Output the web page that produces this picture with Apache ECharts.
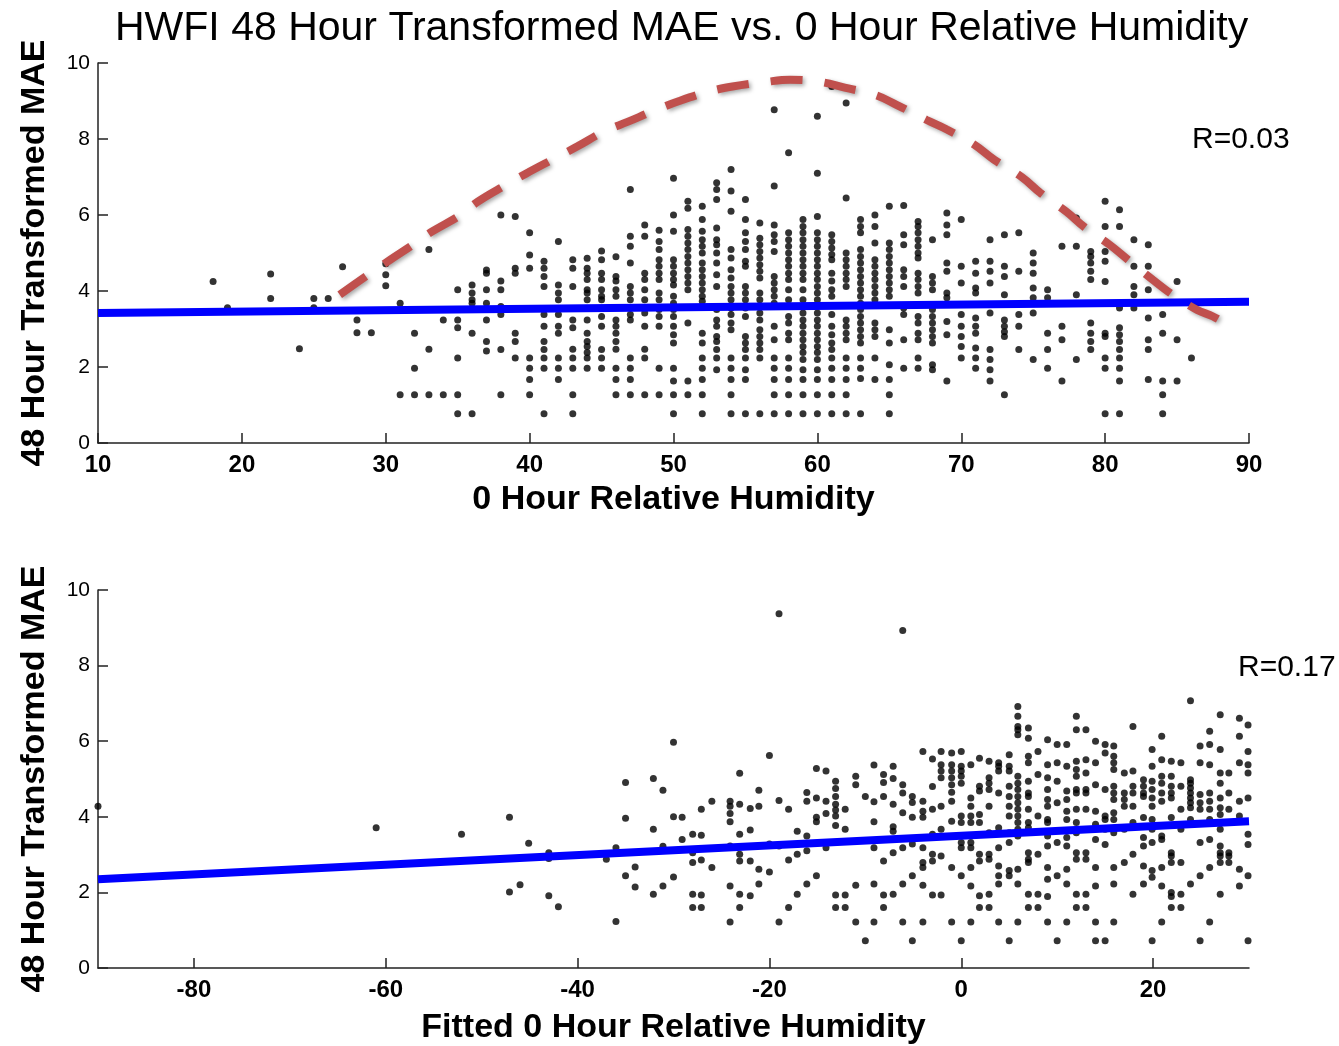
<!DOCTYPE html>
<html>
<head>
<meta charset="utf-8">
<script src="https://cdn.jsdelivr.net/npm/echarts@6/dist/echarts.min.js"></script>
<style>html,body{margin:0;padding:0;background:#fff}#c{width:1339px;height:1046px}</style>
</head>
<body>
<div id="c"></div>
<script>
// ---------- DATA ----------
const titleText = 'HWFI 48 Hour Transformed MAE vs. 0 Hour Relative Humidity';
const yName = '48 Hour Transformed MAE';
const topXName = '0 Hour Relative Humidity';
const botXName = 'Fitted 0 Hour Relative Humidity';
const topR = 'R=0.03';
const botR = 'R=0.17';
const botTicks = [-80, -60, -40, -20, 0, 20];

// Top panel: integer humidity columns and the MAE values in each column
const topX = [18,19,22,24,25,26,27,28,29,30,31,32,33,34,35,36,37,38,39,40,41,42,43,44,45,46,47,48,49,50,
  51,52,53,54,55,56,57,58,59,60,61,62,63,64,65,66,67,68,69,70,71,72,73,74,75,76,77,78,79,80,81,82,83,84,85,86];
const topY = [
  [4.25],[3.56],[4.45,3.8],[2.48],[3.8,3.56],[3.8],[4.64],[3.24,2.9],[2.9],[4.72,4.43,4.14],
  [3.68,1.27],[2.89,1.97,1.27],[5.09,2.47,1.27],[3.24,1.27],[4.03,3.24,3.03,2.24,1.27,0.77],
  [4.16,3.95,3.77,3.68,2.89,0.77],[4.55,4.47,4.03,3.68,3.24,2.67,2.42],[6.0,4.26,4.03,3.59,3.38,2.46,1.27],
  [5.96,4.6,4.47,2.89,2.67,2.24],[5.53,4.95,4.6,2.24,1.97,1.67,1.27],
  [4.78,4.6,4.38,4.12,3.38,3.07,2.67,2.46,2.24,1.97,0.77],[5.3,4.16,3.95,3.77,3.38,3.07,2.89,2.24,1.97,1.67],
  [4.82,4.6,4.12,3.24,3.03,2.47,2.24,1.97,1.27,0.77],
  [4.86,4.6,4.47,4.3,4.03,3.95,3.77,3.24,2.89,2.67,2.54,2.38,2.24,1.97],
  [5.05,4.82,4.47,4.3,4.03,3.86,3.77,3.33,3.07,2.46,2.24,1.97],
  [4.9,4.38,4.26,4.03,3.86,3.24,3.07,2.89,2.67,2.47,1.97,1.67,1.27],
  [6.67,5.44,5.18,4.74,4.12,3.95,3.77,3.55,3.38,3.24,2.24,1.97,1.67,1.27],
  [5.74,5.44,4.47,4.3,4.03,3.77,3.42,3.07,2.47,2.24,1.27],
  [5.6,5.3,5.09,4.82,4.65,4.47,4.3,3.95,3.77,3.51,3.33,3.07,1.97,1.27],
  [6.97,6.0,5.57,4.82,4.65,4.47,4.3,4.16,3.86,3.68,3.51,3.33,3.07,2.85,2.63,1.97,1.63,1.27,0.77],
  [6.36,6.18,5.62,5.44,5.26,5.09,4.91,4.74,4.56,4.38,4.21,4.03,3.16,1.63,1.27],
  [6.23,5.88,5.57,5.35,5.18,5.0,4.74,4.56,4.38,4.21,4.03,3.86,3.73,2.89,2.63,2.24,1.97,1.67,1.27,0.77],
  [6.85,6.67,6.41,5.66,5.35,5.22,5.0,4.74,4.43,4.12,3.51,3.24,3.07,2.8,2.67,2.46,2.24,1.93],
  [7.2,6.63,6.1,5.09,4.87,4.56,4.34,4.12,3.95,3.77,3.55,3.38,3.16,2.98,2.24,1.97,1.67,1.27,0.77],
  [6.41,5.88,5.53,5.3,5.09,4.78,4.65,4.12,3.95,3.77,3.55,3.33,2.8,2.63,2.46,2.24,1.93,1.67,0.77],
  [5.79,5.39,5.22,5.04,4.87,4.69,4.52,4.34,3.95,3.77,3.6,3.42,3.24,2.98,2.8,2.63,2.46,2.24,0.77],
  [8.77,6.76,5.74,5.48,5.3,5.04,4.38,4.21,4.03,3.86,3.68,3.07,2.72,2.24,1.97,1.67,1.27,0.77],
  [7.64,5.53,5.35,5.18,5.0,4.82,4.65,4.47,4.3,4.03,3.77,3.33,3.16,2.89,2.72,2.24,1.97,1.67,1.27,0.77],
  [5.88,5.7,5.53,5.35,5.18,5.0,4.82,4.65,4.47,4.3,4.03,3.77,3.6,3.42,3.24,3.07,2.89,2.72,2.54,2.38,2.2,1.93,1.67,1.27,0.77],
  [8.6,7.1,5.96,5.53,5.35,5.18,5.0,4.82,4.65,4.47,4.3,4.12,3.95,3.77,3.6,3.42,3.24,3.07,2.89,2.72,2.54,2.38,2.2,1.93,1.67,1.27,0.77],
  [9.38,5.48,5.3,5.13,4.96,4.82,4.47,4.26,4.03,3.86,3.38,3.07,2.85,2.63,2.46,2.24,1.97,1.67,1.27,0.77],
  [8.95,6.45,5.0,4.82,4.65,4.47,4.3,4.12,3.24,3.07,2.89,2.72,2.24,1.97,1.67,1.27,0.77],
  [5.88,5.7,5.53,5.09,4.91,4.74,4.56,4.38,4.21,4.03,3.86,3.68,3.51,3.33,3.16,2.98,2.8,2.63,2.24,1.97,1.7,0.77],
  [6.0,5.7,5.26,4.82,4.65,4.47,4.3,4.12,3.95,3.77,3.16,2.98,2.8,2.24,1.67],
  [6.23,5.26,5.09,4.91,4.74,4.56,4.38,4.21,4.03,3.86,2.98,2.63,2.06,1.67,1.27,0.77],
  [6.25,5.48,5.22,4.56,4.38,4.12,3.55,3.38,2.72,1.97],
  [5.83,5.7,5.53,5.35,5.18,5.0,4.87,4.47,4.3,4.12,3.95,3.33,3.16,2.89,2.72,2.24,1.97],
  [5.35,4.38,4.21,4.03,3.51,3.33,3.16,2.98,2.8,2.63,2.06,1.93],
  [6.05,5.74,5.48,4.74,4.52,3.95,3.82,3.2,2.85,1.63],
  [5.88,4.65,4.21,3.38,3.07,2.8,2.54,2.24],
  [4.78,4.47,4.08,3.95,3.29,3.07,2.89,2.5,2.24,1.97],
  [5.35,4.78,4.52,4.21,3.42,2.46,2.2,1.93,1.63],
  [5.48,4.65,4.38,3.9,3.24,3.07,2.93,2.8,1.27],
  [5.53,4.52,3.38,3.07,2.46],
  [5.0,4.74,4.47,4.08,3.82,3.42,2.2],
  [4.03,3.82,2.89,2.46,1.97],
  [5.18,3.07,2.72,1.63],
  [5.92,5.18,3.9,2.2],
  [5.04,4.91,4.74,4.52,4.3,3.16,2.89,2.67,2.46],
  [6.36,5.7,5.04,4.78,4.25,2.89,2.8,2.24,1.97,0.77],
  [6.14,5.7,3.55,3.03,2.85,2.67,2.46,2.24,1.97,1.63,0.77],
  [5.35,4.65,4.12,3.9,3.55],
  [5.22,4.65,4.03,3.29,2.72,2.46,1.67],
  [3.38,2.89,1.63,1.27,0.77],
  [4.25,2.72,1.63],
  [2.24]
];

// Bottom panel: fitted humidity columns and MAE values
const botX = [-90,-61,-52.1,-47.1,-46,-45.1,-43,-42,-37,-36,-35,-34,-32.1,-31.1,-30,-29.1,
  -28,-27.1,-26,-24.1,-23.1,-22,-21.1,-20,-19,-18,-17.1,-16.1,-15.1,-14.1,-13.1,-12.1,-11,-10,-9.1,-8.1,-7.1,-6.1,-5.1,-4,-3,-2.1,-1,
  0,1,1.9,2.9,3.9,5,5.9,7,8,9,10,11,12,13,14,15,15.9,17,17.9,19,19.9,20.9,21.9,22.9,23.9,24.9,25.9,27,27.9,29,29.9];
const botY = [
  [4.28],[3.71],[3.54],[3.99,2.01],[2.2],[3.3],[3.05,2.9,1.91],[1.62],[2.88],[3.18,1.23],[4.91,3.96,2.44],[2.67,2.14],
  [5.01,3.67,1.95],[4.7,3.22,2.17],[5.97,4.0,2.41],[3.99,3.4],
  [3.54,3.05,2.79,1.95,1.6],[4.2,3.51,2.86,1.93,1.6],[4.41,2.66],[4.41,4.28,4.09,3.87,3.23,2.17,1.22],
  [5.15,4.33,3.54,3.01,2.83,1.95,1.6],[4.22,3.65,2.83,1.91],[4.7,4.28,2.61,2.22],[5.62,3.28,2.54],
  [9.37,4.43,3.23,1.22],[4.2,2.86,1.6],[3.62,3.01,1.95],[4.64,4.41,3.49,3.1,2.22],[5.28,4.5,3.99,3.87,2.44],
  [5.21,4.41,4.09,3.18],[4.94,4.75,4.54,4.33,4.18,4.02,3.77,1.93,1.6],[4.2,3.67,1.93,1.6],[5.07,4.85,2.19,1.22],
  [4.54,0.72],[5.37,4.4,3.87,3.18,2.22,1.22],[5.12,4.91,4.54,2.83,1.93,1.6],[5.34,5.01,4.33,3.74,3.62,3.05,1.95],
  [8.93,4.85,4.63,4.11,3.18,2.22,1.22],[4.54,4.38,3.99,3.28,2.44,0.72],[5.73,4.41,4.15,3.99,3.18,2.79,2.66,2.19,1.22],
  [5.53,4.8,4.2,3.54,3.01,2.83,1.93],[5.73,5.38,5.21,5.03,4.28,3.67,2.96,1.93],
  [5.69,5.38,5.21,5.03,4.85,4.65,4.41,3.88,2.66,1.22],
  [5.73,5.34,5.21,5.07,4.89,4.02,3.85,3.32,3.18,2.44,0.72],
  [5.38,4.5,4.28,4.02,3.85,3.32,3.18,2.66,2.17,1.22],
  [5.55,4.81,4.68,4.06,3.85,3.01,2.83,1.91,1.6],
  [5.47,5.03,4.89,4.72,4.28,3.58,3.01,2.88,1.95,1.6],
  [5.43,5.34,5.21,4.63,3.71,3.18,2.7,2.44,2.22,1.22],
  [5.64,5.34,5.21,4.81,4.54,4.28,4.02,3.58,3.32,2.58,2.44,0.72],
  [6.92,6.66,6.39,6.3,6.17,5.07,4.89,4.72,4.54,4.37,4.2,4.02,3.85,3.67,3.49,2.61,2.22,1.22],
  [6.35,6.08,5.6,5.43,4.94,4.63,4.54,4.2,3.85,3.71,3.05,2.88,2.79,1.95,1.6],
  [5.73,5.12,4.02,3.01,1.95,1.6],
  [6.04,5.38,5.03,4.72,4.46,4.28,3.93,3.85,3.49,3.23,2.66,2.35,1.89,1.22],
  [5.91,5.43,4.94,4.37,3.32,2.44,0.72],
  [5.91,5.34,4.68,4.46,4.15,3.93,3.45,3.23,2.61,2.22,1.22],
  [6.66,6.3,5.47,5.25,5.07,4.72,4.63,4.2,3.85,3.58,3.05,2.88,1.95,1.6],
  [6.3,5.51,5.16,4.72,4.63,4.2,3.05,2.88,1.95,1.6],
  [6.0,5.43,4.85,4.15,3.8,3.4,2.66,2.17,1.22,0.72],
  [5.91,5.69,4.72,4.02,3.93,3.67,3.27,0.72],
  [5.87,5.6,5.43,5.25,4.81,4.63,4.46,4.11,3.93,3.58,2.66,2.22,1.22],
  [5.16,4.63,4.46,4.28,3.67,2.79],
  [6.39,5.21,4.81,4.63,4.28,3.85,3.01,1.95],
  [4.98,4.81,4.63,4.54,3.98,3.45,3.23,2.7,2.22],
  [5.78,5.34,4.94,4.72,4.5,4.28,3.93,3.67,3.32,2.58,2.4,0.72],
  [6.13,5.51,5.07,4.89,4.63,4.41,3.49,3.4,2.66,2.17,1.22],
  [5.47,5.07,4.81,4.63,4.5,3.98,3.05,2.96,2.79,2.0,1.89,1.6],
  [5.43,4.81,4.2,3.67,2.79,1.95,1.6],
  [7.07,4.98,4.89,4.76,4.63,4.5,4.37,4.24,3.93,2.22],
  [5.87,5.43,4.59,4.37,4.2,3.32,2.44,0.72],
  [6.26,5.91,5.38,4.63,4.41,4.2,3.93,3.4,2.66,1.22],
  [6.7,5.78,5.16,4.89,4.5,4.24,4.06,3.67,3.23,3.05,2.96,2.79,1.95],
  [5.16,4.63,4.2,3.05,2.96,2.79],
  [6.61,6.13,5.43,4.41,4.02,2.61,2.17],
  [6.43,5.73,5.38,5.16,4.5,3.54,3.27,2.44,0.72]
];

// Linear fits (end points)
const topFitX = [10, 90];
const topFitY = [3.42, 3.72];
const botFitX = [-90, 30];
const botFitY = [2.35, 3.88];

// Hand-drawn dashed curve (top panel)
const curveX = [26.8,28.6,30.3,31.9,33.2,35.2,36.4,38.4,39.8,41.8,43.3,45.2,46.8,48.8,50.4,52.5,54.1,56.4,58.1,60.2,
  61.9,64.0,65.5,67.6,69.0,70.9,72.3,74.2,75.5,77.3,78.6,80.3,81.6,83.3,84.7,86.4,87.5,88.8];
const curveY = [3.9,4.38,4.82,5.22,5.56,6.0,6.35,6.8,7.1,7.5,7.8,8.2,8.45,8.77,9.0,9.25,9.38,9.5,9.56,9.5,
  9.35,9.16,8.9,8.5,8.25,7.85,7.45,7.0,6.58,6.09,5.67,5.22,4.82,4.3,3.9,3.5,3.33,3.04];

// ---------- BUILD ----------
function expand(xs, ys) { const out = []; xs.forEach((x, i) => ys[i].forEach(y => out.push([x, y]))); return out; }
function zip(xs, ys) { return xs.map((x, i) => [x, ys[i]]); }

const FONT = "'Liberation Sans', Arial, sans-serif";
const axisLine = { show: true, onZero: false, lineStyle: { color: '#222', width: 1.5 } };
const axisTick = { show: true, inside: true, length: 10, lineStyle: { color: '#222', width: 1.5 } };

function yAxis(gi) {
  return {
    type: 'value', gridIndex: gi, min: 0, max: 10, interval: 2,
    axisLine, axisTick, splitLine: { show: false },
    axisLabel: { fontFamily: FONT, fontSize: 21, color: '#000', margin: 8 },
    name: yName, nameLocation: 'middle', nameGap: 46,
    nameTextStyle: { fontFamily: FONT, fontSize: 34, fontWeight: 'bold', color: '#000' }
  };
}

const chart = echarts.init(document.getElementById('c'), null, { renderer: 'canvas' });
chart.setOption({
  animation: false,
  backgroundColor: '#fff',
  title: { text: titleText, left: 110, top: 3,
    textStyle: { fontFamily: FONT, fontSize: 41, fontWeight: 'normal', color: '#000' } },
  grid: [
    { left: 98, top: 63, width: 1151, height: 380 },
    { left: 98, top: 590, width: 1151, height: 379 }
  ],
  xAxis: [
    { type: 'value', gridIndex: 0, min: 10, max: 90, interval: 10,
      axisLine, axisTick, splitLine: { show: false },
      axisLabel: { fontFamily: FONT, fontSize: 24, fontWeight: 'bold', color: '#000', margin: 10 },
      name: topXName, nameLocation: 'middle', nameGap: 40,
      nameTextStyle: { fontFamily: FONT, fontSize: 34, fontWeight: 'bold', color: '#000' } },
    { type: 'value', gridIndex: 1, min: -90, max: 30,
      axisLine, splitLine: { show: false },
      axisTick: Object.assign({ customValues: botTicks }, axisTick),
      axisLabel: { fontFamily: FONT, fontSize: 24, fontWeight: 'bold', color: '#000', margin: 10,
        customValues: botTicks },
      name: botXName, nameLocation: 'middle', nameGap: 43,
      nameTextStyle: { fontFamily: FONT, fontSize: 34, fontWeight: 'bold', color: '#000' } }
  ],
  yAxis: [yAxis(0), yAxis(1)],
  graphic: [
    { type: 'text', left: 1192, top: 125, style: { text: topR, font: "30px 'Liberation Sans', Arial", fill: '#000' } },
    { type: 'text', left: 1238, top: 653, style: { text: botR, font: "30px 'Liberation Sans', Arial", fill: '#000' } }
  ],
  series: [
    { type: 'scatter', xAxisIndex: 0, yAxisIndex: 0, data: expand(topX, topY),
      symbol: 'circle', symbolSize: 7, itemStyle: { color: '#000' }, z: 2, silent: true },
    { type: 'scatter', xAxisIndex: 1, yAxisIndex: 1, data: expand(botX, botY),
      symbol: 'circle', symbolSize: 7, itemStyle: { color: '#000' }, z: 2, silent: true },
    { type: 'line', xAxisIndex: 0, yAxisIndex: 0, data: zip(topFitX, topFitY), showSymbol: false,
      lineStyle: { color: '#0000ff', width: 8 }, z: 3, silent: true },
    { type: 'line', xAxisIndex: 1, yAxisIndex: 1, data: zip(botFitX, botFitY), showSymbol: false,
      lineStyle: { color: '#0000ff', width: 8 }, z: 3, silent: true },
    { type: 'line', xAxisIndex: 0, yAxisIndex: 0, data: zip(curveX, curveY), showSymbol: false, smooth: 0.4,
      lineStyle: { color: '#c0504d', width: 8, type: [32, 22], cap: 'butt',
        shadowColor: 'rgba(0,0,0,0.35)', shadowBlur: 4, shadowOffsetX: 2, shadowOffsetY: 2 },
      z: 4, silent: true }
  ]
});
</script>
</body>
</html>
